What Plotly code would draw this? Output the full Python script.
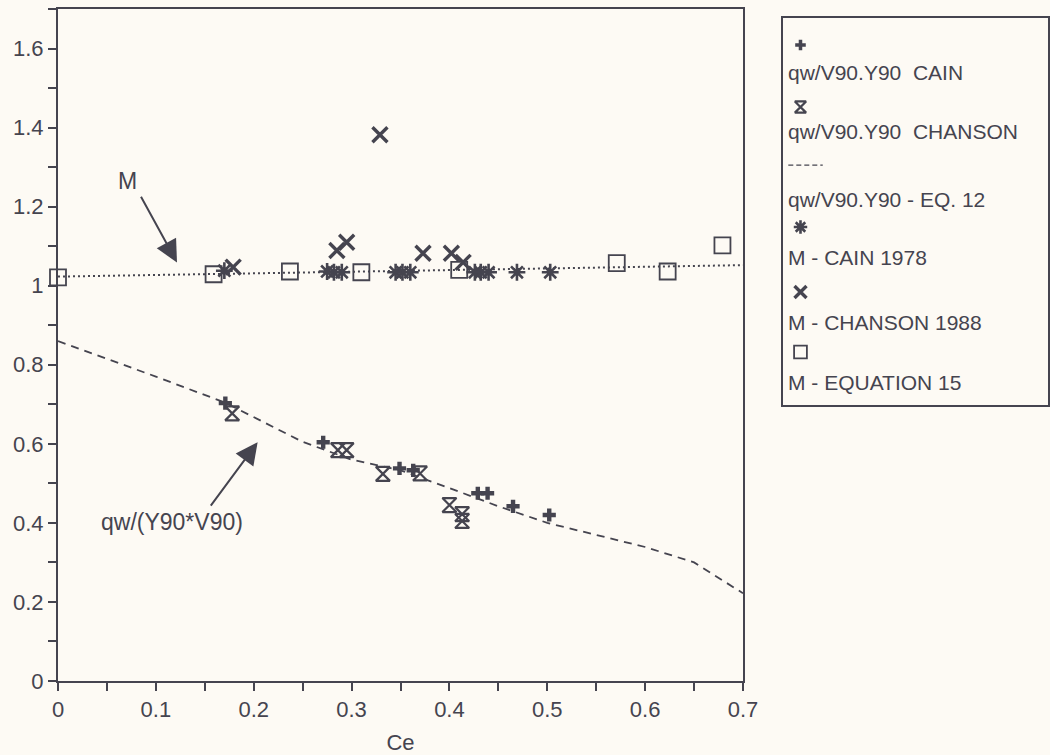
import plotly.graph_objects as go

# --- data -------------------------------------------------------------
# qw/(V90.Y90) measured, Cain
cain_q_x = [0.171, 0.271, 0.349, 0.363, 0.429, 0.439, 0.465, 0.502]
cain_q_y = [0.703, 0.604, 0.538, 0.533, 0.475, 0.475, 0.442, 0.420]

# qw/(V90.Y90) measured, Chanson
chan_q_x = [0.178, 0.286, 0.295, 0.332, 0.370, 0.400, 0.413, 0.413]
chan_q_y = [0.677, 0.584, 0.584, 0.524, 0.525, 0.445, 0.422, 0.405]

# qw/(V90.Y90) from Eq. 12
eq12_x = [0.0, 0.10, 0.17, 0.25, 0.30, 0.35, 0.40, 0.45, 0.50, 0.55, 0.60, 0.65, 0.70]
eq12_y = [0.86, 0.77, 0.705, 0.605, 0.560, 0.533, 0.488, 0.442, 0.400, 0.370, 0.339, 0.300, 0.222]

# M, Cain 1978
cain_m_x = [0.170, 0.275, 0.282, 0.290, 0.345, 0.352, 0.360, 0.426, 0.432, 0.440, 0.469, 0.503]
cain_m_y = [1.038, 1.036, 1.034, 1.034, 1.034, 1.034, 1.034, 1.034, 1.034, 1.034, 1.034, 1.034]

# M, Chanson 1988
chan_m_x = [0.179, 0.285, 0.295, 0.329, 0.373, 0.402, 0.414]
chan_m_y = [1.047, 1.089, 1.110, 1.382, 1.082, 1.082, 1.059]

# M from Eq. 15
eq15_x = [0.0, 0.159, 0.237, 0.310, 0.410, 0.571, 0.623, 0.679]
eq15_y = [1.021, 1.029, 1.036, 1.034, 1.040, 1.057, 1.036, 1.102]

# M trend line
m_line_x = [0.0, 0.70]
m_line_y = [1.023, 1.052]

legend_labels = [
    "qw/V90.Y90  CAIN",
    "qw/V90.Y90  CHANSON",
    "qw/V90.Y90 - EQ. 12",
    "M - CAIN 1978",
    "M - CHANSON 1988",
    "M - EQUATION 15",
]

# --- style ------------------------------------------------------------
W, H = 1050, 755
INK = "#45444f"
BG = "#fdfaf4"
FONT = "Liberation Sans, Arial, sans-serif"

sty_cain_q = dict(symbol="cross", size=11, color=INK, line=dict(width=0))
sty_chan_q = dict(symbol="hourglass-open", size=14, color=INK, line=dict(width=2.2, color=INK))
sty_cain_m = dict(symbol="asterisk-open", size=14, color=INK, line=dict(width=2.6, color=INK))
sty_chan_m = dict(symbol="x-thin-open", size=15, color=INK, line=dict(width=3.4, color=INK))
sty_eq15 = dict(symbol="square-open", size=16, color=INK, line=dict(width=1.8, color=INK))

fig = go.Figure()

fig.add_trace(go.Scatter(x=eq12_x, y=eq12_y, mode="lines",
                         line=dict(color=INK, width=1.8, dash="8px,6px")))
fig.add_trace(go.Scatter(x=m_line_x, y=m_line_y, mode="lines",
                         line=dict(color=INK, width=2, dash="2px,3px")))
fig.add_trace(go.Scatter(x=eq15_x, y=eq15_y, mode="markers", marker=sty_eq15, cliponaxis=False))
fig.add_trace(go.Scatter(x=cain_m_x, y=cain_m_y, mode="markers", marker=sty_cain_m))
fig.add_trace(go.Scatter(x=chan_m_x, y=chan_m_y, mode="markers", marker=sty_chan_m))
fig.add_trace(go.Scatter(x=cain_q_x, y=cain_q_y, mode="markers", marker=sty_cain_q))
fig.add_trace(go.Scatter(x=chan_q_x, y=chan_q_y, mode="markers", marker=sty_chan_q))

# --- legend box drawn on its own small axes ---------------------------
sym_y = [0.93, 0.77, 0.62, 0.46, 0.292, 0.137]
txt_y = [0.86, 0.708, 0.53, 0.382, 0.214, 0.057]
leg_styles = [sty_cain_q, sty_chan_q, None, sty_cain_m, sty_chan_m, sty_eq15]
for sy, st in zip(sym_y, leg_styles):
    if st is None:
        fig.add_trace(go.Scatter(x=[0.02, 0.15], y=[sy, sy], mode="lines",
                                 line=dict(color=INK, width=1.2, dash="5px,3px"),
                                 xaxis="x2", yaxis="y2"))
    else:
        s = dict(st)
        s["size"] = s["size"] * 0.8
        fig.add_trace(go.Scatter(x=[0.066], y=[sy], mode="markers", marker=s,
                                 xaxis="x2", yaxis="y2"))

annotations = []
for ty, lab in zip(txt_y, legend_labels):
    annotations.append(dict(x=0.012, y=ty, xref="x2", yref="y2", text=lab,
                            showarrow=False, xanchor="left", yanchor="middle",
                            font=dict(family=FONT, size=21, color=INK)))

# callouts
annotations.append(dict(x=0.0715, y=1.266, xref="x", yref="y", text="M", showarrow=False,
                        font=dict(family=FONT, size=23, color=INK)))
annotations.append(dict(x=0.1216, y=1.059, ax=0.084, ay=1.229, xref="x", yref="y",
                        axref="x", ayref="y", text="", showarrow=True,
                        arrowhead=2, arrowsize=2.2, arrowwidth=2, arrowcolor=INK))
annotations.append(dict(x=0.117, y=0.402, xref="x", yref="y", text="qw/(Y90*V90)",
                        showarrow=False, font=dict(family=FONT, size=23, color=INK)))
annotations.append(dict(x=0.204, y=0.604, ax=0.155, ay=0.44, xref="x", yref="y",
                        axref="x", ayref="y", text="", showarrow=True,
                        arrowhead=2, arrowsize=2.2, arrowwidth=2, arrowcolor=INK))

# --- axes layout ------------------------------------------------------
px_l, px_r, px_t, px_b = 58, 743, 9, 681
axis_common = dict(showline=True, linecolor=INK, linewidth=2, mirror=True,
                   ticks="outside", ticklen=8, tickwidth=1.5, tickcolor=INK,
                   showgrid=False, zeroline=False,
                   tickfont=dict(family=FONT, size=22, color=INK))

fig.update_layout(
    width=W, height=H,
    margin=dict(l=0, r=0, t=0, b=0),
    paper_bgcolor=BG, plot_bgcolor=BG,
    showlegend=False,
    annotations=annotations,
    xaxis=dict(domain=[px_l / W, px_r / W], range=[0, 0.7], dtick=0.1,
               minor=dict(dtick=0.05, ticks="outside", ticklen=8, tickwidth=1.5, tickcolor=INK),
               title=dict(text="Ce", font=dict(family=FONT, size=22, color=INK), standoff=14),
               automargin=False, **axis_common),
    yaxis=dict(domain=[(H - px_b) / H, (H - px_t) / H], range=[0, 1.7], dtick=0.2,
               minor=dict(dtick=0.1, ticks="outside", ticklen=8, tickwidth=1.5, tickcolor=INK),
               ticklabelstandoff=0, automargin=False, **axis_common),
    xaxis2=dict(domain=[783 / W, 1048 / W], range=[0, 1], anchor="y2",
                showline=True, mirror=True, linecolor=INK, linewidth=1.5,
                showticklabels=False, ticks="", showgrid=False, zeroline=False, fixedrange=True),
    yaxis2=dict(domain=[(H - 405) / H, (H - 18) / H], range=[0, 1], anchor="x2",
                showline=True, mirror=True, linecolor=INK, linewidth=1.5,
                showticklabels=False, ticks="", showgrid=False, zeroline=False, fixedrange=True),
)

fig.write_html("out.html")
